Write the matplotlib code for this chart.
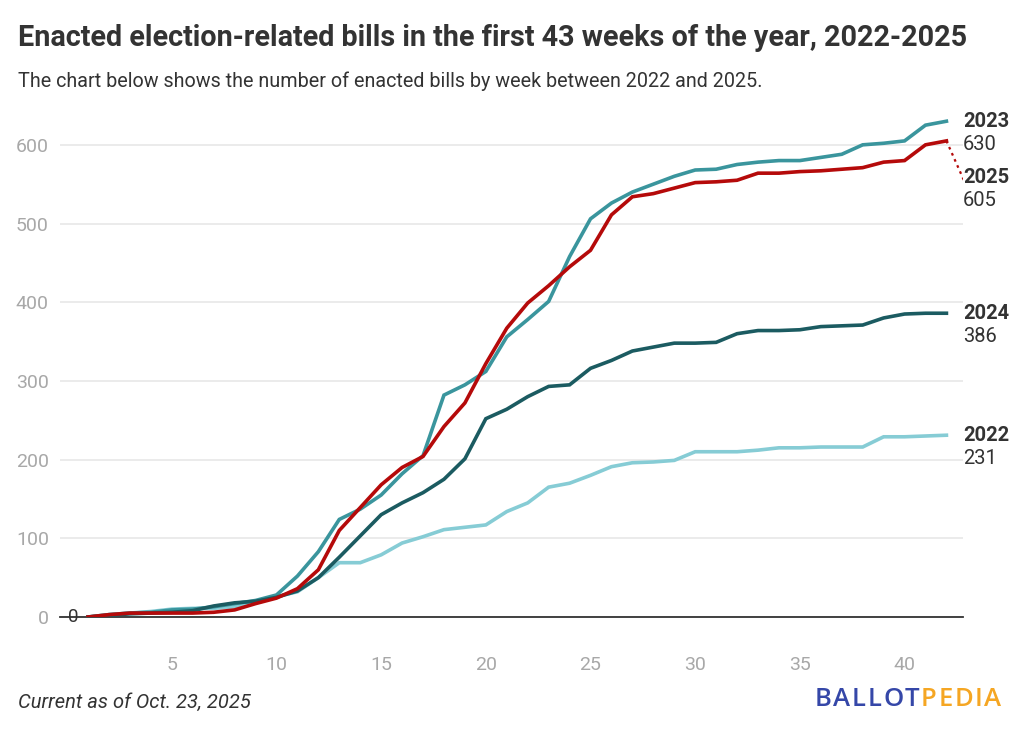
import matplotlib.pyplot as plt

plt.rcParams['font.family'] = ['Roboto', 'DejaVu Sans']

# недели 1..42 (+43 для пунктира 2025)
weeks = list(range(1, 43))

bills_2022 = [0, 3, 5, 7, 10, 11, 11, 13, 20, 26, 32, 50, 69, 69, 79, 94, 102, 111, 114, 117,
              134, 145, 165, 170, 180, 191, 196, 197, 199, 210, 210, 210, 212, 215, 215, 216,
              216, 216, 229, 229, 230, 231]
bills_2023 = [0, 3, 5, 6, 9, 10, 13, 17, 21, 28, 52, 83, 124, 137, 155, 182, 205, 282, 295, 312,
              356, 378, 401, 458, 506, 526, 540, 550, 560, 568, 569, 575, 578, 580, 580, 584,
              588, 600, 602, 605, 625, 630]
bills_2024 = [0, 2, 4, 5, 6, 8, 14, 18, 20, 25, 33, 50, 76, 103, 130, 145, 158, 175, 201, 252,
              264, 280, 293, 295, 316, 326, 338, 343, 348, 348, 349, 360, 364, 364, 365, 369,
              370, 371, 380, 385, 386, 386]
bills_2025 = [0, 3, 5, 5, 5, 5, 6, 9, 17, 24, 36, 60, 110, 139, 168, 190, 204, 242, 272, 322,
              367, 399, 421, 445, 466, 511, 534, 538, 545, 552, 553, 555, 564, 564, 566, 567,
              569, 571, 578, 580, 600, 605]
partial_week = [42, 43]
partial_2025 = [605, 545]

years = ['2022', '2023', '2024', '2025']
colors = ['#86ccd5', '#3a959d', '#1b5b61', '#b50a0a']
series = [bills_2022, bills_2023, bills_2024, bills_2025]
label_y = [231, 630, 386, 559]

fig = plt.figure(figsize=(10.24, 7.3), dpi=100)
ax = fig.add_axes([0.0586, 0.1548, 0.8818, 0.7007])

for vals, c in zip(series, colors):
    ax.plot(weeks, vals, color=c, lw=2.6, solid_joinstyle='miter', zorder=3)
ax.plot(partial_week, partial_2025, color=colors[3], lw=1.6, ls=(0, (1.2, 1.8)), zorder=3)

ax.set_xlim(-0.34, 42.79)
ax.set_ylim(0, 650)
ax.set_xticks([5, 10, 15, 20, 25, 30, 35, 40])
ax.set_yticks([0, 100, 200, 300, 400, 500, 600])
ax.tick_params(length=0, labelsize=14, labelcolor='#a8a8a8')
ax.tick_params(axis='x', pad=28)
ax.tick_params(axis='y', pad=8)
ax.grid(axis='y', color='#e8e8e8', lw=1.2)
ax.set_axisbelow(True)
for s in ['top', 'right', 'left']:
    ax.spines[s].set_visible(False)
ax.spines['bottom'].set_color('#333333')
ax.spines['bottom'].set_linewidth(1.3)
ax.text(0.28, 0, '0', color='#333333', fontsize=13.5, ha='center', va='center')

# подписи справа
for yr, vals, ly in zip(years, series, label_y):
    ax.text(1.0, ly, yr, transform=ax.get_yaxis_transform(), fontsize=14.5,
            fontweight='bold', color='#333333', va='center', ha='left', clip_on=False)
    ax.text(1.0, ly - 30, str(vals[-1]), transform=ax.get_yaxis_transform(), fontsize=14.5,
            color='#333333', va='center', ha='left', clip_on=False)

fig.text(0.0176, 0.948, 'Enacted election-related bills in the first 43 weeks of the year, 2022-2025',
         fontsize=20.7, fontweight='bold', color='#333333', va='center')
fig.text(0.0176, 0.889, 'The chart below shows the number of enacted bills by week between 2022 and 2025.',
         fontsize=14.2, color='#333333', va='center')
fig.text(0.0176, 0.038, 'Current as of Oct. 23, 2025', fontsize=14.5, style='italic',
         color='#333333', va='center')

# логотип, буквы с разрядкой
fig.canvas.draw()
x = 815
for ch, col in [(c, '#3547a8') for c in 'BALLOT'] + [(c, '#f5a623') for c in 'PEDIA']:
    t = fig.text(x / 1024, 0.042, ch, fontsize=18.5, fontweight='semibold', color=col,
                 va='center', family=['Open Sans', 'DejaVu Sans'])
    x = t.get_window_extent(renderer=fig.canvas.get_renderer()).x1 + 1.6

fig.savefig('out.png', dpi=100)
